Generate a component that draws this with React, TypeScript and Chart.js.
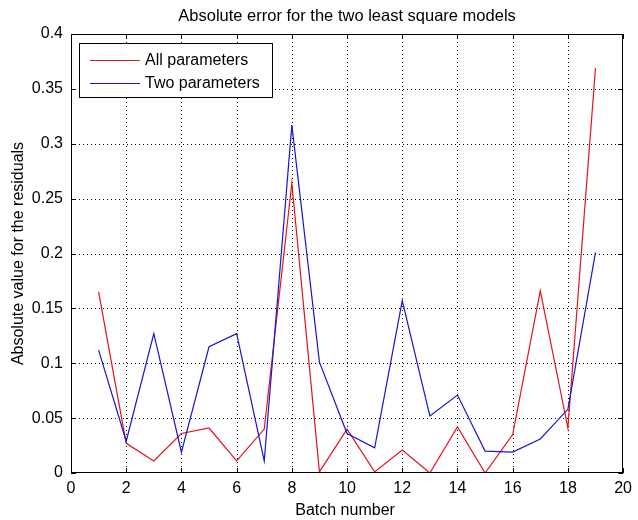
import React, { useEffect, useRef } from "react";
import { Chart, registerables } from "chart.js";

Chart.register(...registerables);

const batches = [1, 2, 3, 4, 5, 6, 7, 8, 9, 10, 11, 12, 13, 14, 15, 16, 17, 18, 19];
const allParams = [0.165, 0.027, 0.011, 0.036, 0.041, 0.011, 0.04, 0.264, 0.001, 0.04, 0.001, 0.021, 0.0, 0.042, 0.0, 0.035, 0.166, 0.041, 0.369];
const twoParams = [0.112, 0.029, 0.127, 0.019, 0.115, 0.127, 0.011, 0.317, 0.101, 0.036, 0.023, 0.157, 0.052, 0.071, 0.02, 0.019, 0.031, 0.058, 0.201];
const xTicks = [0, 2, 4, 6, 8, 10, 12, 14, 16, 18, 20];
const yTicks = [0, 0.05, 0.1, 0.15, 0.2, 0.25, 0.3, 0.35, 0.4];
const seriesLabels = ["All parameters", "Two parameters"];
const titleText = "Absolute error for the two least square models";
const xTitle = "Batch number";
const yTitle = "Absolute value for the residuals";

const FONT = '"Liberation Sans", Arial, Helvetica, sans-serif';
const RED = "rgb(228, 18, 30)";
const BLUE = "rgb(22, 22, 205)";

const matlabPlugin = {
  id: "matlabDecor",
  beforeDatasetsDraw(chart: any) {
    const { ctx, chartArea: a, scales } = chart;
    const xs = scales.x;
    const ys = scales.y;
    ctx.save();
    ctx.strokeStyle = "#000";
    ctx.lineWidth = 1;
    ctx.setLineDash([1, 3]);
    xTicks.forEach((v) => {
      if (v === xTicks[0] || v === xTicks[xTicks.length - 1]) return;
      const px = Math.round(xs.getPixelForValue(v)) + 0.5;
      ctx.beginPath();
      ctx.moveTo(px, a.top);
      ctx.lineTo(px, a.bottom);
      ctx.stroke();
    });
    yTicks.forEach((v) => {
      if (v === yTicks[0] || v === yTicks[yTicks.length - 1]) return;
      const py = Math.round(ys.getPixelForValue(v)) + 0.5;
      ctx.beginPath();
      ctx.moveTo(a.left, py);
      ctx.lineTo(a.right, py);
      ctx.stroke();
    });
    ctx.restore();
  },
  afterDatasetsDraw(chart: any) {
    const { ctx, chartArea: a, scales } = chart;
    const xs = scales.x;
    const ys = scales.y;
    ctx.save();
    ctx.strokeStyle = "#000";
    ctx.lineWidth = 1;
    ctx.setLineDash([]);
    // box
    ctx.strokeRect(Math.round(a.left) + 0.5, Math.round(a.top) + 0.5, Math.round(a.right - a.left) - 1, Math.round(a.bottom - a.top) - 1);
    // inward ticks
    const tl = 5;
    xTicks.forEach((v) => {
      const px = Math.round(xs.getPixelForValue(v)) + 0.5;
      ctx.beginPath();
      ctx.moveTo(px, a.bottom);
      ctx.lineTo(px, a.bottom - tl);
      ctx.moveTo(px, a.top);
      ctx.lineTo(px, a.top + tl);
      ctx.stroke();
    });
    yTicks.forEach((v) => {
      const py = Math.round(ys.getPixelForValue(v)) + 0.5;
      ctx.beginPath();
      ctx.moveTo(a.left, py);
      ctx.lineTo(a.left + tl, py);
      ctx.moveTo(a.right, py);
      ctx.lineTo(a.right - tl, py);
      ctx.stroke();
    });

    // legend
    const lx = 79.5, ly = 43.5, lw = 193, lh = 54;
    ctx.fillStyle = "#fff";
    ctx.fillRect(lx, ly, lw, lh);
    ctx.strokeStyle = "#000";
    ctx.strokeRect(lx, ly, lw, lh);
    const colors = [RED, BLUE];
    const rows = [60, 83];
    ctx.font = `16px ${FONT}`;
    ctx.textAlign = "left";
    ctx.textBaseline = "middle";
    seriesLabels.forEach((lab, i) => {
      ctx.strokeStyle = colors[i];
      ctx.beginPath();
      ctx.moveTo(90, rows[i] + 0.5);
      ctx.lineTo(140, rows[i] + 0.5);
      ctx.stroke();
      ctx.fillStyle = "#000";
      ctx.fillText(lab, 145, rows[i] + 1);
    });

    // titles
    const cx = (a.left + a.right) / 2;
    ctx.fillStyle = "#000";
    ctx.textAlign = "center";
    ctx.textBaseline = "alphabetic";
    ctx.font = `16.5px ${FONT}`;
    ctx.fillText(titleText, cx, 21);
    ctx.font = `16px ${FONT}`;
    ctx.fillText(xTitle, cx - 2, 515);
    ctx.translate(23, (a.top + a.bottom) / 2);
    ctx.rotate(-Math.PI / 2);
    ctx.fillText(yTitle, 0, 0);
    ctx.restore();
  },
};

export default function App() {
  const canvasRef = useRef<HTMLCanvasElement | null>(null);

  useEffect(() => {
    const canvas = canvasRef.current;
    if (!canvas) return;
    const chart = new Chart(canvas, {
      type: "line",
      data: {
        datasets: [
          {
            label: seriesLabels[0],
            data: batches.map((b, i) => ({ x: b, y: allParams[i] })),
            borderColor: RED,
            backgroundColor: RED,
            borderWidth: 1.2,
            pointRadius: 0,
            tension: 0,
            order: 1,
          },
          {
            label: seriesLabels[1],
            data: batches.map((b, i) => ({ x: b, y: twoParams[i] })),
            borderColor: BLUE,
            backgroundColor: BLUE,
            borderWidth: 1.2,
            pointRadius: 0,
            tension: 0,
            order: 0,
          },
        ],
      },
      options: {
        responsive: false,
        animation: false,
        devicePixelRatio: 1,
        layout: { padding: { top: 34, right: 10, left: 0, bottom: 0 } },
        plugins: {
          legend: { display: false },
          title: { display: false },
          tooltip: { enabled: false },
        },
        scales: {
          x: {
            type: "linear",
            min: xTicks[0],
            max: xTicks[xTicks.length - 1],
            afterBuildTicks: (s: any) => {
              s.ticks = xTicks.map((v) => ({ value: v }));
            },
            afterFit: (s: any) => {
              s.height = 47;
            },
            grid: { display: false, drawTicks: false },
            border: { display: false },
            ticks: {
              color: "#000",
              font: { size: 16, family: FONT },
              padding: 6,
              maxRotation: 0,
              autoSkip: false,
              callback: (v: any) => String(v),
            },
          },
          y: {
            type: "linear",
            min: yTicks[0],
            max: yTicks[yTicks.length - 1],
            afterBuildTicks: (s: any) => {
              s.ticks = yTicks.map((v) => ({ value: v }));
            },
            afterFit: (s: any) => {
              s.width = 71;
            },
            grid: { display: false, drawTicks: false },
            border: { display: false },
            ticks: {
              color: "#000",
              font: { size: 16, family: FONT },
              padding: 8,
              autoSkip: false,
              callback: (v: any) => String(+(+v).toFixed(2)),
            },
          },
        },
      },
      plugins: [matlabPlugin],
    });
    return () => chart.destroy();
  }, []);

  return (
    <div style={{ position: "fixed", left: 0, top: 0, width: 638, height: 520, background: "#fff" }}>
      <canvas ref={canvasRef} width={638} height={520} style={{ display: "block" }} />
    </div>
  );
}
